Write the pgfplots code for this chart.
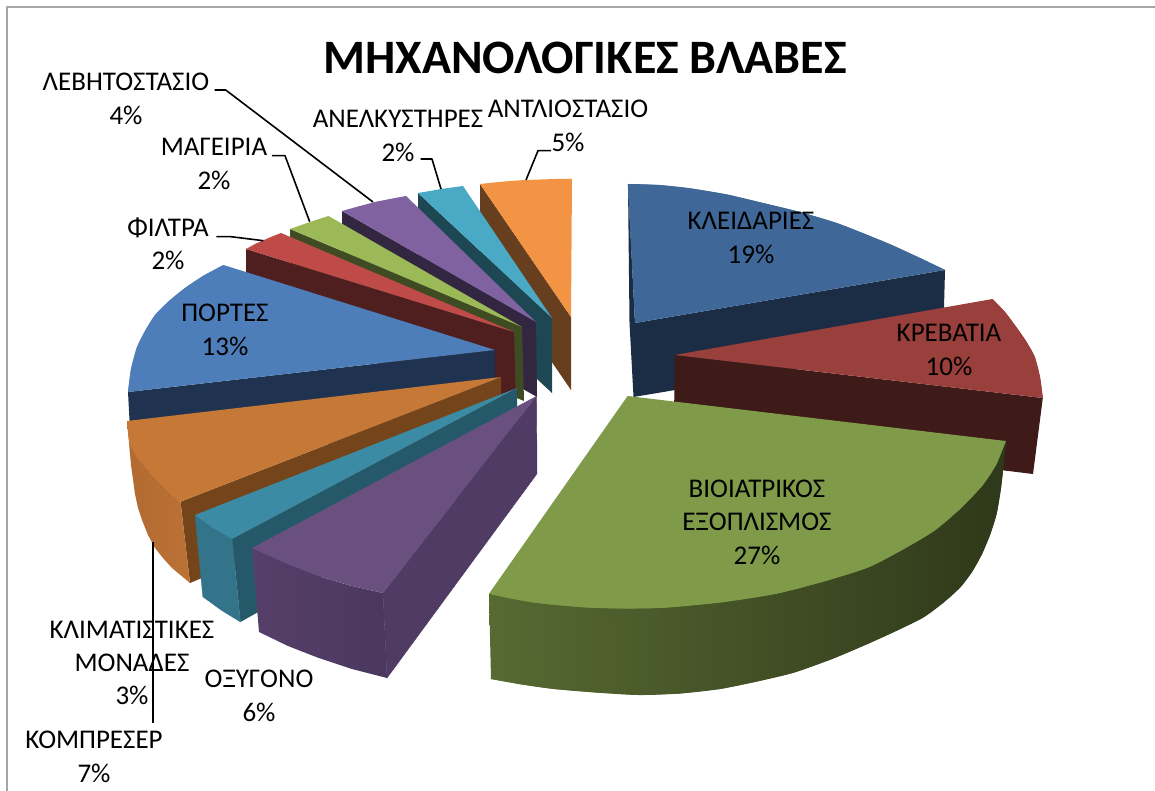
\documentclass[border=0pt]{standalone}
\usepackage{pgfplots}
\pgfplotsset{compat=1.18}
\usepackage{fontspec}
\setmainfont{Carlito}
\definecolor{frameg}{HTML}{A6A6A6}
\definecolor{gtop}{RGB}{127,154,72}
\definecolor{gl}{RGB}{87,106,50}
\definecolor{gm}{RGB}{49,58,27}
\definecolor{gr}{RGB}{47,56,26}
\definecolor{btop}{RGB}{63,104,153}
\definecolor{bw}{RGB}{26,45,69}
\definecolor{rtop}{RGB}{153,63,60}
\definecolor{ptop}{RGB}{78,126,186}
\definecolor{otop}{RGB}{198,120,55}
\definecolor{owl}{RGB}{178,106,48}
\definecolor{owr}{RGB}{188,114,54}
\definecolor{vr}{RGB}{79,59,99}
\definecolor{vwl}{RGB}{86,63,106}
\definecolor{vwr}{RGB}{74,56,94}
\definecolor{vt}{RGB}{105,80,127}
\definecolor{tin}{RGB}{37,89,106}
\definecolor{tout}{RGB}{52,116,139}
\definecolor{ttop}{RGB}{60,139,165}
\tikzset{
  lbl/.style={font=\fontsize{27}{33.4}\selectfont,align=center,text=black,inner sep=0pt},
  lead/.style={draw=black,line width=1.6pt,fill=none,sharp plot},
}
\begin{document}
\begin{tikzpicture}
\begin{axis}[
  width=1155pt,height=791pt,scale only axis,
  xmin=0,xmax=1155,ymin=0,ymax=791,y dir=reverse,
  hide axis,clip=true,
  every axis plot/.append style={draw=none,mark=none,line join=round},
]
\addplot[fill=white] coordinates {(0,0)(1155,0)(1155,791)(0,791)} --cycle;
\addplot[draw=frameg,line width=2pt,fill=none] coordinates {(1155,7)(7,7)(7,791)};

% ANTLIOSTASIO
\addplot[fill={rgb,255:red,103;green,62;blue,30}] coordinates {(480,184)(571,317)(571,390)(480,257)} --cycle;
\addplot[fill={rgb,255:red,243;green,148;blue,68}] coordinates {(480,184)(495,182.4)(510,181)(525,180)(540,179.5)(556,179)(572,179)(571,317)} --cycle;
% ANELKYSTIRES
\addplot[fill={rgb,255:red,29;green,72;blue,83}] coordinates {(418,193)(552,318)(552,393)(418,268)} --cycle;
\addplot[fill={rgb,255:red,74;green,170;blue,197}] coordinates {(418,193)(430,191)(441,189)(452,187.5)(463,186)(552,318)} --cycle;
% LEVITOSTASIO
\addplot[fill={rgb,255:red,50;green,38;blue,65}] coordinates {(342,211)(536,322)(537,397)(342,286)} --cycle;
\addplot[fill={rgb,255:red,128;green,98;blue,160}] coordinates {(342,211)(358,206.5)(375,202)(390,199)(406,196)(536,322)} --cycle;
% MAGEIRIA
\addplot[fill={rgb,255:red,63;green,75;blue,34}] coordinates {(290,229)(522,327)(524,401)(290,304)} --cycle;
\addplot[fill={rgb,255:red,155;green,185;blue,87}] coordinates {(290,229)(300,225.5)(310,222)(319,219)(328.5,216)(522,327)} --cycle;
% FILTRA
\addplot[fill={rgb,255:red,79;green,30;blue,30}] coordinates {(246,249)(514,332)(516,405)(246,324)} --cycle;
\addplot[fill={rgb,255:red,190;green,75;blue,72}] coordinates {(246,249)(255,244)(264,240)(272,236.5)(281,233)(514,332)} --cycle;
% PORTES
\addplot[fill={rgb,255:red,31;green,51;blue,80}] coordinates {(128,392)(495,350)(495,425)(132,467)} --cycle;
\addplot[fill=ptop] coordinates {(223.5,265)(203,276)(185,288)(169,301)(155,315)(145,331)(137,347)(131,369)(128,392)(495,350)} --cycle;
\addplot[fill=ptop,smooth] coordinates {(223.5,265)(203,276)(185,288)(169,301)(155,315)(145,331)(137,347)(131,369)(128,392)};
% KOMPRESER
\addplot[fill={rgb,255:red,116;green,69;blue,26}] coordinates {(180.5,501.7)(501,377)(501,452)(190,583)} --cycle;
\addplot[left color=owl,right color=owr] coordinates {(127,421)(129.5,442)(136,456)(146,468)(154,477)(163,486)(171,494)(180.5,501.7)(190,583)(172,568)(163,558)(155,548)(148,535)(142.4,521)(138,508)(135,494)(131,465)} --cycle;
\addplot[fill=otop] coordinates {(127,421)(501,377)(180.5,501.7)(171,494)(163,486)(154,477)(146,468)(136,456)(129.5,442)} --cycle;
\addplot[fill=otop,smooth] coordinates {(127,421)(129.5,442)(136,456)(146,468)(154,477)(163,486)(171,494)(180.5,501.7)};
% KLIMATISTIKES
\addplot[fill=tin] coordinates {(232,539)(517,388)(518,465)(240.5,622)} --cycle;
\addplot[fill=tout,draw=tout,line width=0.3pt] coordinates {(195,515)(213,528)(232,539)(240.5,622)(221,610)(202.8,596.7)} --cycle;
\addplot[fill=ttop] coordinates {(195,515)(213,528)(232,539)(517,388)} --cycle;
% OXYGONO
\addplot[fill=vr,draw=vr,line width=0.4pt] coordinates {(383,593)(536.5,396)(537,473.7)(387,678)} --cycle;
\addplot[left color=vwl,right color=vwr] coordinates {(252,548)(285,563)(318,576)(350,585.5)(383,593)(387,678)(352,669)(318,657.7)(288,646)(259,632)} --cycle;
\addplot[fill=vt] coordinates {(252,548)(285,563)(318,576)(350,585.5)(383,593)(536.5,396)} --cycle;
% KLEIDARIES
\addplot[fill=bw] coordinates {(628,184)(635,323)(945,270)(943,345)(633.5,397)(629.5,323)} --cycle;
\addplot[fill=btop] coordinates {(627.7,184)(659,185)(690,188.3)(727,194.5)(763,203)(800,212)(836.7,223)(865,234)(891.7,245)(920,258)(945,270)(635,323)} --cycle;
\addplot[fill=btop,smooth] coordinates {(627.7,184)(659,185)(690,188.3)(727,194.5)(763,203)(800,212)(836.7,223)(865,234)(891.7,245)(920,258)(945,270)};
% KREVATIA
\addplot[fill={rgb,255:red,62;green,26;blue,24}] coordinates {(674.6,355)(1042.8,398)(1033,474)(674,430)} --cycle;
\addplot[fill=rtop] coordinates {(674.6,355)(992.5,299)(1005,312)(1016,326.7)(1026,341)(1034.7,356.7)(1040,377)(1042.8,398)} --cycle;
\addplot[fill=rtop,smooth] coordinates {(992.5,299)(1005,312)(1016,326.7)(1026,341)(1034.7,356.7)(1040,377)(1042.8,398)};
% VIOIATRIKOS
\addplot[left color=gl,middle color=gm,right color=gr] coordinates {(489,593.7)(1005.8,441)(1004,461)(1001,488)(996.6,514)(990,535)(982,554)(972,572)(960,587.7)(943,603)(923,617.7)(896,631)(867.5,644)(832,659)(793.7,672.7)(757,681.5)(720,689)(680,693.5)(638.7,695)(596,692.5)(554,689)(522,684.5)(491,679)} --cycle;
\addplot[left color=gl,middle color=gm,right color=gr,smooth] coordinates {(1005.8,441)(1004,461)(1001,488)(996.6,514)(990,535)(982,554)(972,572)(960,587.7)(943,603)(923,617.7)(896,631)(867.5,644)(832,659)(793.7,672.7)(757,681.5)(720,689)(680,693.5)(638.7,695)(596,692.5)(554,689)(522,684.5)(491,679)};
\addplot[fill=gtop] coordinates {(627.6,396)(1005.8,441)(996,465)(982,486)(960,509)(934,531)(902,550)(867.5,567.7)(822,582)(775,594)(720,602.5)(664.5,607.7)(627,608.5)(590.7,607.7)(562,605.5)(535,602.7)(511,598.5)(489,593.7)} --cycle;
\addplot[fill=gtop,smooth] coordinates {(1005.8,441)(996,465)(982,486)(960,509)(934,531)(902,550)(867.5,567.7)(822,582)(775,594)(720,602.5)(664.5,607.7)(627,608.5)(590.7,607.7)(562,605.5)(535,602.7)(511,598.5)(489,593.7)};

% leaders
\addplot[lead] coordinates {(214.6,90)(225.7,90)(373,202)};
\addplot[lead] coordinates {(272,155.7)(285,155.7)(309.7,221.7)};
\addplot[lead] coordinates {(216.4,236.7)(231,236.7)(263.4,240.7)};
\addplot[lead] coordinates {(420.6,159)(432,159)(441,189)};
\addplot[lead] coordinates {(551,150.7)(538,150.7)(526,180)};
\addplot[lead] coordinates {(153,542)(153,722.7)};

% text
\node[font=\fontsize{48}{54}\selectfont\bfseries,text=black,inner sep=0pt] at (axis cs:585,58) {ΜΗΧΑΝΟΛΟΓΙΚΕΣ ΒΛΑΒΕΣ};
\node[lbl] at (axis cs:126,99) {ΛΕΒΗΤΟΣΤΑΣΙΟ\\4\%};
\node[lbl] at (axis cs:214,164) {ΜΑΓΕΙΡΙΑ\\2\%};
\node[lbl] at (axis cs:168,244) {ΦΙΛΤΡΑ\\2\%};
\node[lbl] at (axis cs:398,136) {ΑΝΕΛΚΥΣΤΗΡΕΣ\\2\%};
\node[lbl] at (axis cs:568,126) {ΑΝΤΛΙΟΣΤΑΣΙΟ\\5\%};
\node[lbl] at (axis cs:225,330) {ΠΟΡΤΕΣ\\13\%};
\node[lbl] at (axis cs:751,238) {ΚΛΕΙΔΑΡΙΕΣ\\19\%};
\node[lbl] at (axis cs:949,350) {ΚΡΕΒΑΤΙΑ\\10\%};
\node[lbl] at (axis cs:757,522) {ΒΙΟΙΑΤΡΙΚΟΣ\\ΕΞΟΠΛΙΣΜΟΣ\\27\%};
\node[lbl] at (axis cs:132,663) {ΚΛΙΜΑΤΙΣΤΙΚΕΣ\\ΜΟΝΑΔΕΣ\\3\%};
\node[lbl] at (axis cs:259,696) {ΟΞΥΓΟΝΟ\\6\%};
\node[lbl] at (axis cs:94,757) {ΚΟΜΠΡΕΣΕΡ\\7\%};
\end{axis}
\end{tikzpicture}
\end{document}
